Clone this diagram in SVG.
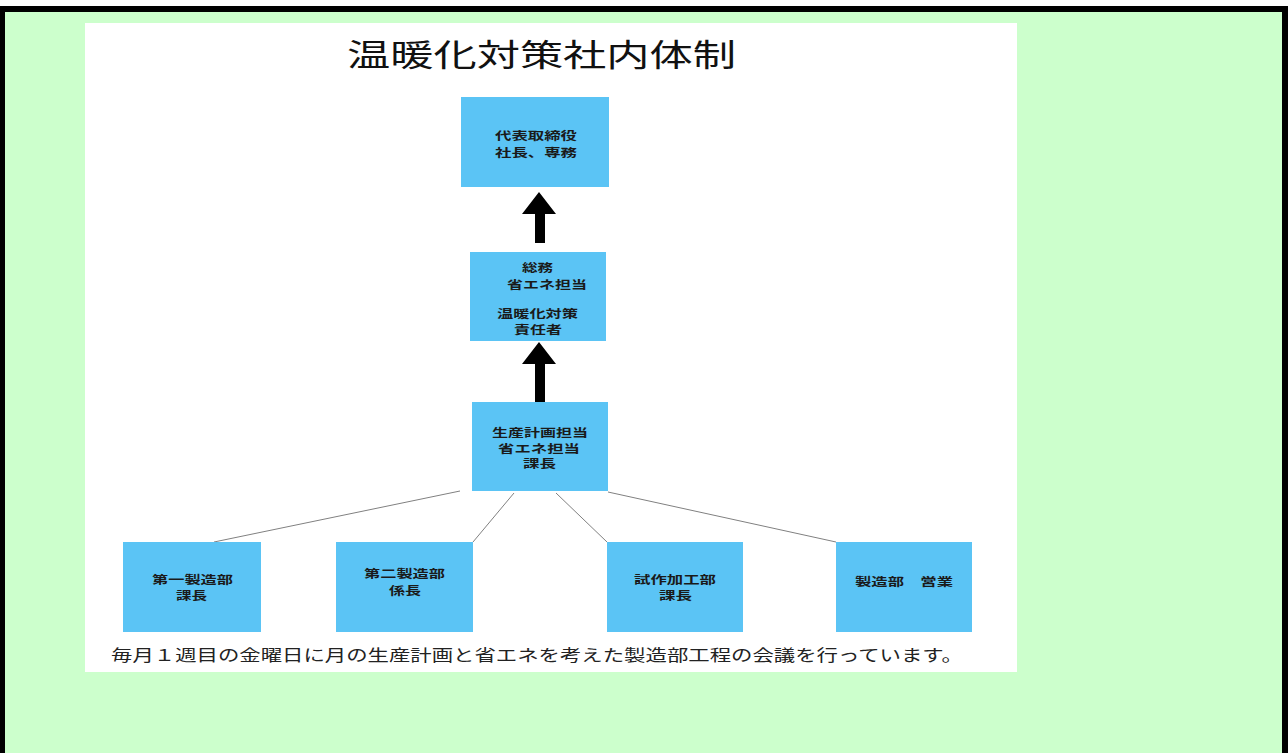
<svg xmlns="http://www.w3.org/2000/svg" width="1288" height="753" viewBox="0 0 1288 753">
<defs>
<style>
.box{fill:#5bc4f5;}
.bt{font-family:"Noto Sans CJK JP","Noto Sans",sans-serif;font-weight:bold;font-size:11.5px;fill:#1a1a1a;text-anchor:start;}
.ln{stroke:#808080;stroke-width:1;fill:none;}
.ar{fill:#000;}
</style>
</defs>
<rect x="0" y="0" width="1288" height="753" fill="#ffffff"/>
<rect x="0" y="6" width="1288" height="747" fill="#000"/>
<rect x="5" y="12" width="1277" height="741" fill="#ccffcc"/>
<rect x="85" y="23" width="932" height="649" fill="#ffffff"/>
<text x="347" y="66" font-family="Noto Sans CJK JP, Noto Sans, sans-serif" font-size="31" fill="#111" textLength="389" lengthAdjust="spacingAndGlyphs">温暖化対策社内体制</text>
<g id="connectors">
<line class="ln" x1="460" y1="491" x2="214" y2="542"/>
<line class="ln" x1="514" y1="493" x2="473" y2="542"/>
<line class="ln" x1="556" y1="493" x2="607" y2="542"/>
<line class="ln" x1="608" y1="492" x2="836" y2="542"/>
<polygon class="ar" points="539,192 556,214 545,214 545,243 535,243 535,214 522,214"/>
<polygon class="ar" points="539,342 556,364 545,364 545,402 535,402 535,364 522,364"/>
</g>
<g id="n-top">
<rect class="box" x="461" y="97" width="148" height="90"/>
<text class="bt" x="495" y="139.5" textLength="82" lengthAdjust="spacingAndGlyphs">代表取締役</text>
<text class="bt" x="495" y="156.5" textLength="82" lengthAdjust="spacingAndGlyphs">社長、専務</text>
</g>
<g id="n-mid">
<rect class="box" x="470" y="252" width="136" height="89"/>
<text class="bt" x="522" y="271.5" textLength="31" lengthAdjust="spacingAndGlyphs">総務</text>
<text class="bt" x="507" y="288.5" textLength="80" lengthAdjust="spacingAndGlyphs">省エネ担当</text>
<text class="bt" x="497" y="317.5" textLength="81" lengthAdjust="spacingAndGlyphs">温暖化対策</text>
<text class="bt" x="514" y="333.5" textLength="48" lengthAdjust="spacingAndGlyphs">責任者</text>
</g>
<g id="n-plan">
<rect class="box" x="472" y="402" width="136" height="89"/>
<text class="bt" x="492" y="436.5" textLength="96" lengthAdjust="spacingAndGlyphs">生産計画担当</text>
<text class="bt" x="498" y="452.5" textLength="82" lengthAdjust="spacingAndGlyphs">省エネ担当</text>
<text class="bt" x="523" y="467.5" textLength="33" lengthAdjust="spacingAndGlyphs">課長</text>
</g>
<g id="n-dept1">
<rect class="box" x="123" y="542" width="138" height="90"/>
<text class="bt" x="152" y="583.5" textLength="81" lengthAdjust="spacingAndGlyphs">第一製造部</text>
<text class="bt" x="176" y="599.5" textLength="31" lengthAdjust="spacingAndGlyphs">課長</text>
</g>
<g id="n-dept2">
<rect class="box" x="336" y="542" width="137" height="90"/>
<text class="bt" x="364" y="577.5" textLength="81" lengthAdjust="spacingAndGlyphs">第二製造部</text>
<text class="bt" x="389" y="594.5" textLength="32" lengthAdjust="spacingAndGlyphs">係長</text>
</g>
<g id="n-proto">
<rect class="box" x="607" y="542" width="136" height="90"/>
<text class="bt" x="634" y="583.5" textLength="82" lengthAdjust="spacingAndGlyphs">試作加工部</text>
<text class="bt" x="659" y="599.5" textLength="33" lengthAdjust="spacingAndGlyphs">課長</text>
</g>
<g id="n-sales">
<rect class="box" x="836" y="542" width="136" height="90"/>
<text class="bt" x="855" y="585.5" textLength="98" lengthAdjust="spacingAndGlyphs">製造部　営業</text>
</g>
<text x="111" y="661" font-family="Noto Sans CJK JP, Noto Sans, sans-serif" font-size="16" fill="#222" textLength="852" lengthAdjust="spacingAndGlyphs">毎月１週目の金曜日に月の生産計画と省エネを考えた製造部工程の会議を行っています。</text>
</svg>
